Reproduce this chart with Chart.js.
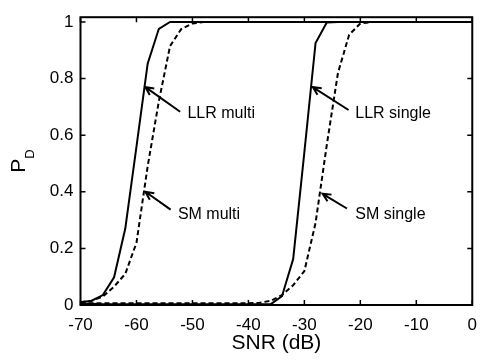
<!DOCTYPE html>
<html>
<head>
<meta charset="utf-8">
<script src="https://cdn.jsdelivr.net/npm/chart.js@4.4.1/dist/chart.umd.min.js"></script>
<style>
  html, body { margin: 0; padding: 0; background: #fff; }
  #wrap { width: 487px; height: 360px; }
</style>
</head>
<body>
<div id="wrap"><canvas id="chart01" width="487" height="360"></canvas></div>
<script>
// SNR grid (dB)
const snr = [-70, -68, -66, -64, -62, -60, -58, -56, -54, -52, -50, -48, -46, -44, -42, -40, -38, -36,
             -34, -32, -30, -28, -26, -24, -22, -20, -18, -16, -14, -12, -10, -8, -6, -4, -2, 0];

// detection probability per curve
const llrMulti = [0.01, 0.015, 0.035, 0.098, 0.27, 0.56, 0.853, 0.976, 1, 1, 1, 1, 1, 1, 1, 1, 1, 1,
                  1, 1, 1, 1, 1, 1, 1, 1, 1, 1, 1, 1, 1, 1, 1, 1, 1, 1];
const smMulti = [0.01, 0.015, 0.03, 0.065, 0.11, 0.22, 0.49, 0.72, 0.915, 0.975, 0.995, 1, 1, 1, 1, 1, 1, 1,
                 1, 1, 1, 1, 1, 1, 1, 1, 1, 1, 1, 1, 1, 1, 1, 1, 1, 1];
const llrSingle = [0.004, 0.004, 0.003, 0.003, 0.003, 0.003, 0.003, 0.003, 0.003, 0.003, 0.003, 0.003, 0.003, 0.003, 0.003, 0.003, 0.003, 0.003,
                   0.031, 0.162, 0.54, 0.926, 0.998, 1, 1, 1, 1, 1, 1, 1, 1, 1, 1, 1, 1, 1];
const smSingle = [0.006, 0.006, 0.006, 0.006, 0.006, 0.006, 0.006, 0.006, 0.006, 0.006, 0.006, 0.006, 0.006, 0.006, 0.006, 0.006, 0.008, 0.015,
                  0.035, 0.07, 0.12, 0.29, 0.565, 0.82, 0.955, 0.995, 1, 1, 1, 1, 1, 1, 1, 1, 1, 1];

const xTicks = [-70, -60, -50, -40, -30, -20, -10, 0];
const yTicks = [0, 0.2, 0.4, 0.6, 0.8, 1];

// arrow annotations: label, text anchor, arrow tail, arrow head (data units)
const noteLabels = ["LLR multi", "SM multi", "LLR single", "SM single"];
const noteText = [[-50.9, 0.677], [-52.6, 0.319], [-20.9, 0.677], [-20.9, 0.319]];
const noteTail = [[-52.2, 0.683], [-53.9, 0.337], [-22.1, 0.689], [-22.4, 0.341]];
const noteHead = [[-58.4, 0.77], [-58.4, 0.40], [-28.5, 0.77], [-26.75, 0.393]];

const FONT = "'Liberation Sans', Arial, sans-serif";

const toPoints = arr => arr.map((v, i) => ({ x: snr[i], y: v }));

const line = (label, arr, dashed) => ({
    label: label,
    data: toPoints(arr),
    borderColor: "#000",
    borderWidth: 2,
    borderDash: dashed ? [5, 3] : [],
    pointRadius: 0,
    fill: false,
    tension: 0
});

// matlab style box, inward ticks, axis titles, arrows
const matlabPlugin = {
    id: "matlab",
    afterDraw(chart) {
        const ctx = chart.ctx;
        const a = chart.chartArea;
        const x = chart.scales.x, y = chart.scales.y;
        ctx.save();
        ctx.strokeStyle = "#000";
        ctx.fillStyle = "#000";

        ctx.lineWidth = 2;
        ctx.strokeRect(a.left, a.top, a.right - a.left, a.bottom - a.top);

        ctx.lineWidth = 1.5;
        ctx.beginPath();
        xTicks.forEach(v => {
            const px = x.getPixelForValue(v);
            ctx.moveTo(px, a.bottom); ctx.lineTo(px, a.bottom - 5);
            ctx.moveTo(px, a.top); ctx.lineTo(px, a.top + 5);
        });
        yTicks.forEach(v => {
            const py = y.getPixelForValue(v);
            ctx.moveTo(a.left, py); ctx.lineTo(a.left + 5, py);
            ctx.moveTo(a.right, py); ctx.lineTo(a.right - 5, py);
        });
        ctx.stroke();

        // arrows + labels
        ctx.lineWidth = 2;
        ctx.font = "16px " + FONT;
        ctx.textAlign = "left";
        ctx.textBaseline = "middle";
        noteLabels.forEach((txt, i) => {
            const tx = x.getPixelForValue(noteTail[i][0]), ty = y.getPixelForValue(noteTail[i][1]);
            const hx = x.getPixelForValue(noteHead[i][0]), hy = y.getPixelForValue(noteHead[i][1]);
            const ang = Math.atan2(hy - ty, hx - tx);
            ctx.beginPath();
            ctx.moveTo(tx, ty); ctx.lineTo(hx, hy);
            ctx.moveTo(hx - 9 * Math.cos(ang - 0.45), hy - 9 * Math.sin(ang - 0.45));
            ctx.lineTo(hx, hy);
            ctx.lineTo(hx - 9 * Math.cos(ang + 0.45), hy - 9 * Math.sin(ang + 0.45));
            ctx.stroke();
            ctx.fillText(txt, x.getPixelForValue(noteText[i][0]), y.getPixelForValue(noteText[i][1]));
        });

        // x title
        ctx.textAlign = "center";
        ctx.font = "21px " + FONT;
        ctx.fillText("SNR (dB)", (a.left + a.right) / 2, 343);

        // y title P_D
        const cy = (a.top + a.bottom) / 2;
        ctx.translate(25, cy);
        ctx.rotate(-Math.PI / 2);
        ctx.textAlign = "left";
        ctx.textBaseline = "alphabetic";
        ctx.font = "21px " + FONT;
        const pw = ctx.measureText("P").width;
        ctx.font = "13px " + FONT;
        const dw = ctx.measureText("D").width;
        const start = -(pw + dw) / 2;
        ctx.font = "21px " + FONT;
        ctx.fillText("P", start, 0);
        ctx.font = "13px " + FONT;
        ctx.fillText("D", start + pw, 9);
        ctx.restore();
    }
};

new Chart(document.getElementById("chart01"), {
    type: "line",
    data: {
        datasets: [
            line("LLR multi", llrMulti, false),
            line("SM multi", smMulti, true),
            line("LLR single", llrSingle, false),
            line("SM single", smSingle, true)
        ]
    },
    options: {
        responsive: false,
        animation: false,
        devicePixelRatio: 1,
        layout: { padding: { left: 0, right: 5, top: 12, bottom: 0 } },
        plugins: { legend: { display: false }, tooltip: { enabled: false } },
        scales: {
            x: {
                type: "linear",
                min: -70,
                max: 0,
                afterBuildTicks: s => { s.ticks = xTicks.map(v => ({ value: v })); },
                afterFit: s => { s.height = 55; },
                grid: { display: false, drawTicks: false },
                border: { display: false },
                ticks: { padding: 10, color: "#000", font: { family: FONT, size: 17 }, callback: v => String(v) }
            },
            y: {
                type: "linear",
                min: 0,
                max: 1.017,
                afterBuildTicks: s => { s.ticks = yTicks.map(v => ({ value: v })); },
                afterFit: s => { s.width = 80.5; },
                grid: { display: false, drawTicks: false },
                border: { display: false },
                ticks: { padding: 7, color: "#000", font: { family: FONT, size: 17 }, callback: v => String(v) }
            }
        }
    },
    plugins: [matlabPlugin]
});
</script>
</body>
</html>
